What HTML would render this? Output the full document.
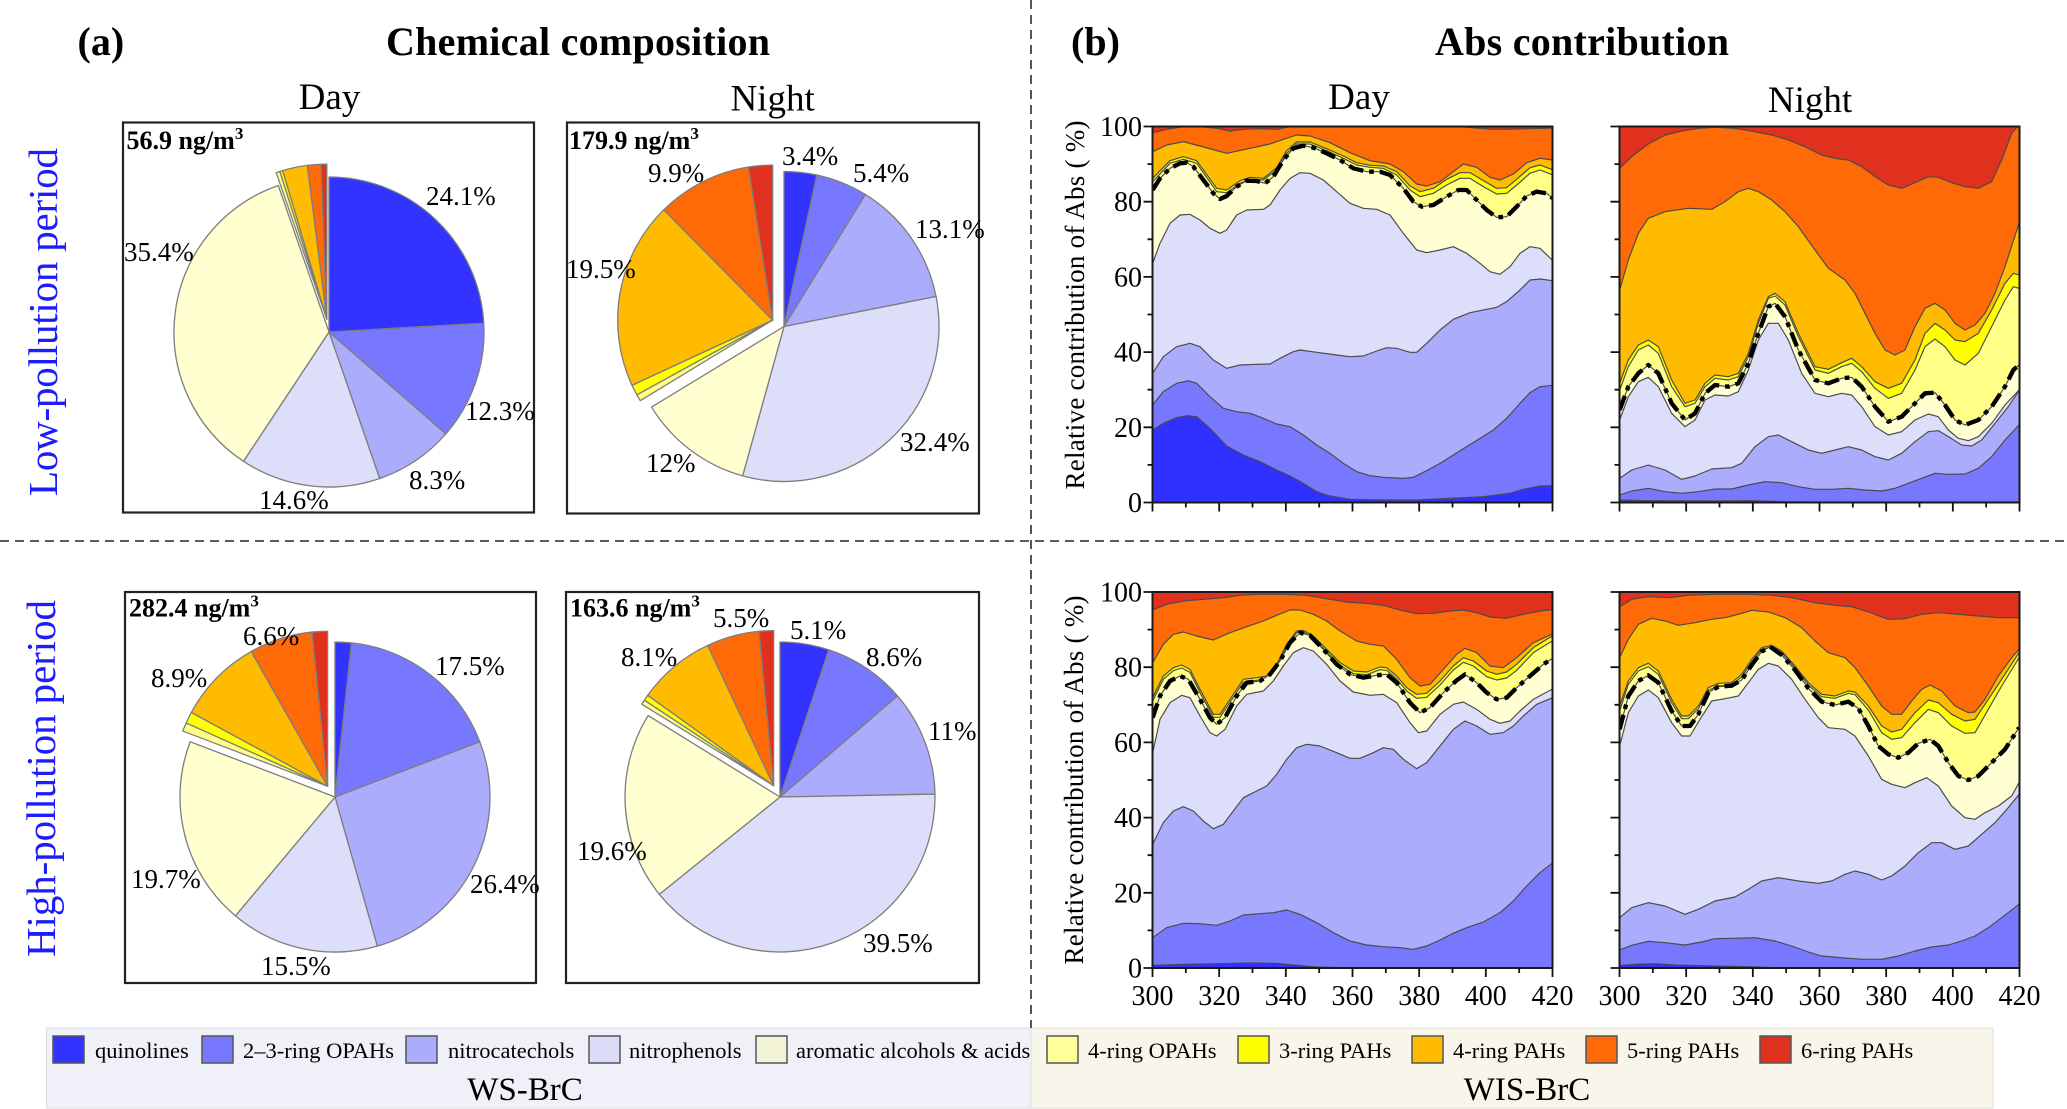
<!DOCTYPE html>
<html>
<head>
<meta charset="utf-8">
<style>
html,body{margin:0;padding:0;background:#fff;}
body{width:2067px;height:1109px;overflow:hidden;}
svg{display:block;}
text{font-family:"Liberation Serif","Times New Roman",serif;fill:#000;}
</style>
</head>
<body>
<svg width="2067" height="1109" viewBox="0 0 2067 1109" xmlns="http://www.w3.org/2000/svg">
<defs>
<clipPath id="cTL"><rect x="1152.5" y="126.5" width="400" height="376"/></clipPath>
<clipPath id="cTR"><rect x="1619.5" y="126.5" width="400" height="376"/></clipPath>
<clipPath id="cBL"><rect x="1152.5" y="592" width="400" height="376"/></clipPath>
<clipPath id="cBR"><rect x="1619.5" y="592" width="400" height="376"/></clipPath>
<g id="yt"><path d="M-9 0H0M-5 -37.6H0M-9 -75.2H0M-5 -112.8H0M-9 -150.4H0M-5 -188H0M-9 -225.6H0M-5 -263.2H0M-9 -300.8H0M-5 -338.4H0M-9 -376H0" stroke="#111" stroke-width="1.8" fill="none"/></g>
<g id="xt"><path d="M0 0V9M33.33 0V5M66.67 0V9M100 0V5M133.33 0V9M166.67 0V5M200 0V9M233.33 0V5M266.67 0V9M300 0V5M333.33 0V9M366.67 0V5M400 0V9" stroke="#111" stroke-width="1.8" fill="none"/></g>
</defs>
<rect x="0" y="0" width="2067" height="1109" fill="#fff"/>

<!-- legend backgrounds -->
<rect x="46.5" y="1028" width="984.5" height="80" fill="#f0f0f9" stroke="#dcdce6" stroke-width="1"/>
<rect x="1031" y="1028" width="962" height="80" fill="#f8f5ea" stroke="#e2dfd4" stroke-width="1"/>

<!-- dividers -->
<line x1="1031" y1="0" x2="1031" y2="1028" stroke="#444" stroke-width="1.8" stroke-dasharray="9 6"/>
<line x1="0" y1="541" x2="2067" y2="541" stroke="#444" stroke-width="1.8" stroke-dasharray="9 6"/>

<!-- titles -->
<text x="77.5" y="55" font-size="40" font-weight="bold">(a)</text>
<text x="578" y="55" font-size="40" font-weight="bold" text-anchor="middle" textLength="384" lengthAdjust="spacing">Chemical composition</text>
<text x="1071" y="55" font-size="40" font-weight="bold">(b)</text>
<text x="1582" y="55" font-size="40" font-weight="bold" text-anchor="middle" textLength="294" lengthAdjust="spacing">Abs contribution</text>
<text x="329.5" y="109" font-size="37" text-anchor="middle">Day</text>
<text x="772.6" y="110.5" font-size="37" text-anchor="middle">Night</text>
<text x="1359" y="109" font-size="37" text-anchor="middle">Day</text>
<text x="1810" y="112" font-size="37" text-anchor="middle">Night</text>

<text transform="translate(57 322) rotate(-90)" font-size="41" text-anchor="middle" textLength="348" lengthAdjust="spacing" style="fill:#1c1cff">Low-pollution period</text>
<text transform="translate(55 778.5) rotate(-90)" font-size="41" text-anchor="middle" textLength="357" lengthAdjust="spacing" style="fill:#1c1cff">High-pollution period</text>

<!-- pie boxes -->
<g fill="none" stroke="#222" stroke-width="2.2">
<rect x="123" y="122.5" width="411" height="390"/>
<rect x="567" y="122.5" width="412" height="391"/>
<rect x="125" y="592" width="411" height="391"/>
<rect x="566" y="592" width="413" height="391"/>
</g>

<!-- pies -->
<g stroke="#7d7d7d" stroke-width="1.3" stroke-linejoin="round">
<path fill="#3333ff" d="M329 332L329 177A155 155 0 0 1 483.75 323.24Z"/>
<path fill="#7878ff" d="M329 332L483.75 323.24A155 155 0 0 1 445.84 433.87Z"/>
<path fill="#abadfc" d="M329 332L445.84 433.87A155 155 0 0 1 379.67 478.49Z"/>
<path fill="#dcdefa" d="M329 332L379.67 478.49A155 155 0 0 1 243.5 461.29Z"/>
<path fill="#ffffd0" d="M329 332L243.5 461.29A155 155 0 0 1 278.33 185.51Z"/>
<path fill="#ffff88" d="M326.85 319.18L276.18 172.69A155 155 0 0 1 279.87 171.46Z"/>
<path fill="#ffff00" d="M326.85 319.18L279.87 171.46A155 155 0 0 1 282.67 170.61Z"/>
<path fill="#ffbb00" d="M326.85 319.18L282.67 170.61A155 155 0 0 1 307.43 165.4Z"/>
<path fill="#ff6a08" d="M326.85 319.18L307.43 165.4A155 155 0 0 1 321.01 164.29Z"/>
<path fill="#e0301e" d="M326.85 319.18L321.01 164.29A155 155 0 0 1 326.85 164.18Z"/>

<path fill="#3333ff" d="M784 326.5L784 171.5A155 155 0 0 1 816.86 175.02Z"/>
<path fill="#7878ff" d="M784 326.5L816.86 175.02A155 155 0 0 1 865.41 194.59Z"/>
<path fill="#abadfc" d="M784 326.5L865.41 194.59A155 155 0 0 1 936.07 296.49Z"/>
<path fill="#dcdefa" d="M784 326.5L936.07 296.49A155 155 0 0 1 742.63 475.87Z"/>
<path fill="#ffffd0" d="M784 326.5L742.63 475.87A155 155 0 0 1 651.58 407.07Z"/>
<path fill="#ffff88" d="M772.67 320.13L640.25 400.7A155 155 0 0 1 636.84 394.81Z"/>
<path fill="#ffff00" d="M772.67 320.13L636.84 394.81A155 155 0 0 1 632.01 385.25Z"/>
<path fill="#ffbb00" d="M772.67 320.13L632.01 385.25A155 155 0 0 1 663.77 209.83Z"/>
<path fill="#ff6a08" d="M772.67 320.13L663.77 209.83A155 155 0 0 1 748.43 167.04Z"/>
<path fill="#e0301e" d="M772.67 320.13L748.43 167.04A155 155 0 0 1 772.67 165.13Z"/>

<path fill="#3333ff" d="M335 797L335 642A155 155 0 0 1 351.52 642.88Z"/>
<path fill="#7878ff" d="M335 797L351.52 642.88A155 155 0 0 1 479.83 741.76Z"/>
<path fill="#abadfc" d="M335 797L479.83 741.76A155 155 0 0 1 377.32 946.11Z"/>
<path fill="#dcdefa" d="M335 797L377.32 946.11A155 155 0 0 1 235.47 915.82Z"/>
<path fill="#ffffd0" d="M335 797L235.47 915.82A155 155 0 0 1 190.18 741.76Z"/>
<path fill="#ffff88" d="M327.63 786.29L182.81 731.05A155 155 0 0 1 186.16 722.96Z"/>
<path fill="#ffff00" d="M327.63 786.29L186.16 722.96A155 155 0 0 1 191.32 712.46Z"/>
<path fill="#ffbb00" d="M327.63 786.29L191.32 712.46A155 155 0 0 1 251.26 651.41Z"/>
<path fill="#ff6a08" d="M327.63 786.29L251.26 651.41A155 155 0 0 1 312.07 632.07Z"/>
<path fill="#e0301e" d="M327.63 786.29L312.07 632.07A155 155 0 0 1 327.63 631.29Z"/>

<path fill="#3333ff" d="M780 797L780 642A155 155 0 0 1 828.83 649.89Z"/>
<path fill="#7878ff" d="M780 797L828.83 649.89A155 155 0 0 1 897.51 695.92Z"/>
<path fill="#abadfc" d="M780 797L897.51 695.92A155 155 0 0 1 934.97 794.08Z"/>
<path fill="#dcdefa" d="M780 797L934.97 794.08A155 155 0 0 1 659.35 894.28Z"/>
<path fill="#ffffd0" d="M780 797L659.35 894.28A155 155 0 0 1 648.1 715.59Z"/>
<path fill="#ffff88" d="M773.67 785.65L641.77 704.24A155 155 0 0 1 644.42 700.15Z"/>
<path fill="#ffff00" d="M773.67 785.65L644.42 700.15A155 155 0 0 1 647.69 695.32Z"/>
<path fill="#ffbb00" d="M773.67 785.65L647.69 695.32A155 155 0 0 1 707.67 645.41Z"/>
<path fill="#ff6a08" d="M773.67 785.65L707.67 645.41A155 155 0 0 1 759.08 631.33Z"/>
<path fill="#e0301e" d="M773.67 785.65L759.08 631.33A155 155 0 0 1 773.67 630.65Z"/>
</g>

<!-- pie labels -->
<g font-size="27">
<text x="426" y="205">24.1%</text>
<text x="465" y="420">12.3%</text>
<text x="409" y="489">8.3%</text>
<text x="259" y="509">14.6%</text>
<text x="124" y="261">35.4%</text>

<text x="782" y="165">3.4%</text>
<text x="853" y="182">5.4%</text>
<text x="915" y="238">13.1%</text>
<text x="900" y="451">32.4%</text>
<text x="646" y="472">12%</text>
<text x="566" y="278">19.5%</text>
<text x="648" y="182">9.9%</text>

<text x="435" y="675">17.5%</text>
<text x="470" y="893">26.4%</text>
<text x="261" y="975">15.5%</text>
<text x="131" y="888">19.7%</text>
<text x="151" y="687">8.9%</text>
<text x="243" y="645">6.6%</text>

<text x="713" y="627">5.5%</text>
<text x="790" y="639">5.1%</text>
<text x="866" y="666">8.6%</text>
<text x="928" y="740">11%</text>
<text x="863" y="952">39.5%</text>
<text x="577" y="860">19.6%</text>
<text x="621" y="666">8.1%</text>
</g>
<g font-size="26" font-weight="bold">
<text x="126.5" y="149">56.9 ng/m<tspan dy="-10" font-size="17">3</tspan></text>
<text x="569" y="149">179.9 ng/m<tspan dy="-10" font-size="17">3</tspan></text>
<text x="129" y="616.5">282.4 ng/m<tspan dy="-10" font-size="17">3</tspan></text>
<text x="570" y="616.5">163.6 ng/m<tspan dy="-10" font-size="17">3</tspan></text>
</g>

<!-- ===== Area chart: low day ===== -->
<g clip-path="url(#cTL)"><g transform="translate(1150 120) scale(0.333333)" stroke="#4a4a4a" stroke-width="3.5" stroke-linejoin="round">
<rect x="0" y="0" width="1230" height="1160" fill="#e0301e" stroke="none"/>
<polygon fill="#ff6a08" points="0,1150 0,40 8,38 50,28 100,20 150,20 200,25 240,33 280,28 330,26 380,28 420,20 450,17 900,17 950,22 1030,28 1100,27 1215,24 1215,1150"/>
<polygon fill="#ffbb00" points="0,1150 0,98 8,95 50,75 100,65 150,78 230,100 300,85 360,72 400,58 440,45 480,48 540,68 600,98 660,122 720,132 760,155 800,192 830,198 870,185 910,155 940,132 980,142 1020,172 1050,180 1090,162 1130,128 1170,115 1215,121 1215,1150"/>
<polygon fill="#ffff00" points="0,1150 0,180 8,175 60,122 100,110 140,122 200,205 230,210 270,182 300,172 340,175 380,143 410,92 440,66 480,66 530,86 580,108 620,128 660,136 700,138 740,155 780,198 810,215 850,205 890,178 930,158 960,158 1000,182 1040,205 1070,203 1100,178 1140,143 1170,135 1215,152 1215,1150"/>
<polygon fill="#ffff88" points="0,1150 0,190 8,185 60,130 100,118 140,130 200,215 230,218 270,190 300,178 340,180 380,150 410,100 440,72 480,72 530,92 580,115 620,135 660,142 700,145 740,165 780,210 810,230 850,220 890,195 930,175 960,175 1000,200 1040,222 1070,220 1100,195 1140,160 1170,150 1215,167 1215,1150"/>
<polygon fill="#ffffd2" points="0,1150 0,215 8,210 30,175 60,145 90,130 110,128 130,140 160,180 190,220 210,237 230,228 260,200 290,182 320,183 345,190 370,170 400,120 430,85 460,77 490,83 530,100 570,120 610,145 650,155 690,155 720,165 760,205 790,245 815,260 850,255 890,230 925,210 950,210 980,240 1010,270 1040,292 1070,290 1100,260 1130,228 1160,215 1190,220 1215,240 1215,1150"/>
<polygon fill="#dddefa" points="0,1150 0,445 8,430 30,370 60,310 90,285 120,283 150,300 180,325 210,340 230,330 260,285 290,270 340,268 360,255 390,210 420,175 450,158 480,160 520,180 560,215 600,250 640,265 680,268 720,285 760,340 800,390 830,398 870,390 910,380 950,400 990,430 1020,455 1050,463 1080,440 1110,400 1140,380 1170,385 1215,428 1215,1150"/>
<polygon fill="#abadfc" points="0,1150 0,770 8,760 40,710 80,680 120,670 150,680 190,720 230,745 270,735 320,733 360,732 390,715 430,695 450,690 500,697 560,705 600,710 640,708 680,693 710,683 740,685 780,697 800,697 830,670 870,630 910,598 960,578 1010,568 1040,562 1070,545 1110,510 1140,480 1170,477 1215,483 1215,1150"/>
<polygon fill="#7878ff" points="0,1150 0,862 8,855 40,815 80,790 115,782 140,790 180,830 220,865 260,875 300,880 340,895 380,912 420,920 460,945 500,975 540,1000 580,1030 620,1055 660,1067 700,1072 760,1075 790,1072 830,1052 870,1030 910,1005 950,980 990,955 1030,930 1070,895 1110,850 1140,818 1170,800 1215,795 1215,1150"/>
<polygon fill="#3030ff" points="0,1150 0,935 8,930 40,910 80,893 110,887 140,890 180,925 230,978 280,1005 330,1025 380,1050 420,1068 460,1090 500,1115 540,1128 600,1138 700,1140 800,1140 900,1135 1000,1130 1080,1120 1120,1108 1170,1098 1215,1097 1215,1150"/>
<polyline fill="none" stroke="#000" stroke-width="13" stroke-dasharray="45 18 14 18" points="8,210 30,175 60,145 90,130 110,128 130,140 160,180 190,220 210,237 230,228 260,200 290,182 320,183 345,190 370,170 400,120 430,85 460,77 490,83 530,100 570,120 610,145 650,155 690,155 720,165 760,205 790,245 815,260 850,255 890,230 925,210 950,210 980,240 1010,270 1040,292 1070,290 1100,260 1130,228 1160,215 1190,220 1215,240"/>
</g></g>

<!-- ===== Area chart: low night ===== -->
<g clip-path="url(#cTR)"><g transform="translate(1615 120) scale(0.333333)" stroke="#4a4a4a" stroke-width="3.5" stroke-linejoin="round">
<rect x="0" y="0" width="1240" height="1160" fill="#e0301e" stroke="none"/>
<polygon fill="#ff6a08" points="0,1150 0,155 14,145 50,110 100,72 150,45 200,33 250,25 300,22 360,25 420,35 470,45 520,60 570,80 620,105 660,115 700,120 740,140 780,170 820,195 860,205 900,188 940,170 970,172 1010,188 1050,200 1090,205 1130,185 1160,120 1190,40 1212,15 1225,10 1225,1150"/>
<polygon fill="#ffbb00" points="0,1150 0,540 14,510 40,420 70,340 100,295 150,275 220,265 290,268 330,245 370,215 400,205 430,215 470,240 510,275 550,320 600,390 640,445 690,480 720,520 750,580 780,640 810,690 840,705 870,690 900,620 930,565 960,550 990,570 1020,610 1050,630 1080,615 1110,580 1140,520 1170,440 1212,310 1225,290 1225,1150"/>
<polygon fill="#ffff00" points="0,1150 0,810 14,790 40,720 70,675 100,660 130,680 170,780 210,850 240,840 270,790 300,765 340,770 370,760 400,700 430,600 460,530 480,520 510,545 550,640 600,740 640,748 680,728 710,715 740,740 780,785 820,805 860,790 900,720 930,640 960,610 990,630 1020,660 1050,665 1090,640 1130,570 1170,490 1195,460 1212,465 1225,465 1225,1150"/>
<polygon fill="#ffff88" points="0,1150 0,830 14,810 40,740 70,690 100,675 130,700 170,800 210,860 240,850 270,800 300,775 340,780 370,770 400,710 430,610 460,535 480,528 510,555 550,650 600,750 640,760 680,740 710,730 740,755 780,805 820,835 860,820 900,750 930,680 960,657 990,680 1020,720 1050,735 1090,700 1130,620 1170,540 1195,500 1212,505 1225,505 1225,1150"/>
<polygon fill="#ffffd2" points="0,1150 0,890 14,870 40,800 70,760 100,735 130,760 170,850 210,900 240,880 270,820 300,795 340,800 370,790 400,730 430,640 460,560 480,550 510,590 550,690 600,780 640,790 680,775 710,772 740,800 780,860 820,905 860,890 900,850 930,820 960,818 990,855 1020,900 1050,915 1090,900 1130,860 1170,800 1195,750 1212,735 1225,730 1225,1150"/>
<polygon fill="#dddefa" points="0,1150 0,920 14,900 40,830 70,785 100,772 130,800 170,880 210,920 240,900 270,840 300,825 340,828 370,815 400,750 430,660 460,610 490,610 520,660 560,760 600,820 640,830 680,820 710,825 740,860 780,920 820,945 860,935 900,900 940,882 970,890 1000,930 1030,955 1060,962 1090,950 1130,910 1170,855 1212,810 1225,800 1225,1150"/>
<polygon fill="#abadfc" points="0,1150 0,1080 14,1075 50,1050 100,1035 150,1050 200,1078 240,1068 290,1047 350,1043 380,1030 420,980 460,950 490,945 530,965 580,990 620,1000 660,990 700,980 740,990 780,1010 820,1020 860,1000 900,965 940,935 970,932 1000,950 1040,975 1070,978 1100,960 1140,910 1180,860 1212,812 1225,800 1225,1150"/>
<polygon fill="#7878ff" points="0,1150 0,1128 14,1125 50,1113 100,1105 150,1115 200,1120 250,1115 300,1107 350,1107 400,1095 450,1085 500,1088 550,1100 600,1108 650,1108 700,1105 750,1110 800,1113 840,1105 880,1090 920,1075 960,1060 1000,1063 1050,1062 1090,1045 1130,1010 1170,960 1212,915 1225,900 1225,1150"/>
<polygon fill="#3030ff" points="0,1150 0,1140 14,1140 100,1142 300,1143 400,1142 500,1145 600,1146 1225,1146 1225,1150"/>
<polyline fill="none" stroke="#000" stroke-width="13" stroke-dasharray="45 18 14 18" points="14,870 40,800 70,760 100,735 130,760 170,850 210,900 240,880 270,820 300,795 340,800 370,790 400,730 430,640 460,560 480,550 510,590 550,690 600,780 640,790 680,775 710,772 740,800 780,860 820,905 860,890 900,850 930,820 960,818 990,855 1020,900 1050,915 1090,900 1130,860 1170,800 1195,750 1212,735"/>
</g></g>

<!-- ===== Area chart: high day ===== -->
<g clip-path="url(#cBL)"><g transform="translate(1150 586) scale(0.333333)" stroke="#4a4a4a" stroke-width="3.5" stroke-linejoin="round">
<rect x="0" y="0" width="1230" height="1160" fill="#e0301e" stroke="none"/>
<polygon fill="#ff6a08" points="0,1150 0,75 8,72 50,55 100,45 160,40 220,35 270,28 330,25 400,25 470,28 530,38 590,48 650,52 700,58 750,72 800,83 850,82 900,75 940,72 980,80 1020,93 1070,97 1120,85 1170,75 1215,70 1215,1150"/>
<polygon fill="#ffbb00" points="0,1150 0,240 8,230 40,175 70,145 100,138 140,150 190,162 240,140 290,122 340,105 380,88 420,72 450,72 490,85 530,105 570,135 620,165 660,175 700,180 740,220 780,275 810,300 840,295 880,250 920,205 945,187 980,200 1020,240 1060,245 1100,215 1150,170 1215,140 1215,1150"/>
<polygon fill="#ffff00" points="0,1150 0,345 8,335 40,270 70,245 95,237 120,250 150,310 190,385 210,385 240,340 280,280 320,275 350,270 380,235 410,175 440,135 460,133 490,150 530,190 570,230 610,255 650,258 690,243 710,245 740,270 770,305 800,325 830,322 870,285 910,240 940,215 970,225 1010,255 1040,265 1070,258 1100,235 1150,185 1215,145 1215,1150"/>
<polygon fill="#ffff88" points="0,1150 0,355 8,345 40,280 70,254 95,246 120,259 150,320 190,394 210,394 240,349 280,289 320,283 350,278 380,243 410,182 440,140 460,138 490,156 530,197 570,238 610,263 650,266 690,251 710,253 740,279 770,315 800,337 830,334 870,297 910,252 940,229 970,240 1010,272 1040,282 1070,276 1100,253 1150,200 1215,160 1215,1150"/>
<polygon fill="#ffffd2" points="0,1150 0,405 8,395 30,330 60,285 90,270 115,280 150,340 180,395 200,415 225,395 260,330 290,290 330,285 360,265 390,225 420,170 450,140 480,148 520,190 560,235 600,265 640,275 680,268 710,265 740,290 780,350 810,380 840,365 880,320 920,283 945,265 980,290 1010,320 1040,340 1070,335 1100,305 1140,270 1180,235 1215,212 1215,1150"/>
<polygon fill="#dddefa" points="0,1150 0,520 8,500 30,400 60,350 95,328 120,335 150,390 180,440 200,450 225,430 260,360 290,325 340,315 370,285 400,240 430,200 460,185 490,195 530,235 570,285 610,318 660,328 700,325 740,350 780,410 805,440 830,435 870,385 910,355 940,348 980,370 1020,400 1050,412 1080,405 1110,375 1150,340 1215,305 1215,1150"/>
<polygon fill="#abadfc" points="0,1150 0,790 8,775 40,710 70,675 100,662 130,675 160,705 190,728 220,715 250,675 280,635 320,615 350,600 380,565 410,520 440,485 470,475 510,480 560,500 600,517 630,517 670,500 700,485 730,490 760,520 800,548 830,530 870,480 910,430 945,405 980,420 1020,445 1060,440 1090,420 1120,390 1160,355 1215,332 1215,1150"/>
<polygon fill="#7878ff" points="0,1150 0,1062 8,1055 50,1025 100,1012 150,1013 200,1018 240,1005 280,987 330,983 370,980 410,972 450,985 500,1010 550,1040 600,1065 650,1077 700,1082 750,1085 790,1090 830,1080 870,1062 910,1042 950,1025 1000,1008 1050,980 1090,945 1130,900 1170,860 1215,825 1215,1150"/>
<polygon fill="#3030ff" points="0,1150 0,1139 8,1138 100,1135 200,1133 300,1131 380,1132 430,1137 500,1143 600,1146 1215,1146 1215,1150"/>
<polyline fill="none" stroke="#000" stroke-width="13" stroke-dasharray="45 18 14 18" points="8,395 30,330 60,285 90,270 115,280 150,340 180,395 200,415 225,395 260,330 290,290 330,285 360,265 390,225 420,170 450,140 480,148 520,190 560,235 600,265 640,275 680,268 710,265 740,290 780,350 810,380 840,365 880,320 920,283 945,265 980,290 1010,320 1040,340 1070,335 1100,305 1140,270 1180,235 1215,212"/>
</g></g>

<!-- ===== Area chart: high night ===== -->
<g clip-path="url(#cBR)"><g transform="translate(1615 586) scale(0.333333)" stroke="#4a4a4a" stroke-width="3.5" stroke-linejoin="round">
<rect x="0" y="0" width="1240" height="1160" fill="#e0301e" stroke="none"/>
<polygon fill="#ff6a08" points="0,1150 0,68 14,62 50,40 100,32 160,35 220,28 300,25 400,25 470,28 530,35 600,50 660,58 710,62 760,78 820,100 870,98 920,85 970,80 1030,85 1090,90 1150,95 1225,95 1225,1150"/>
<polygon fill="#ffbb00" points="0,1150 0,235 14,215 40,160 70,115 110,97 150,105 190,118 240,110 290,100 330,95 370,85 410,73 460,78 510,95 560,125 600,165 640,200 690,215 720,245 760,300 800,360 830,385 860,385 890,345 920,310 945,297 980,315 1020,360 1060,380 1080,378 1110,340 1150,270 1190,215 1212,190 1225,175 1225,1150"/>
<polygon fill="#ffff00" points="0,1150 0,380 14,360 40,285 70,245 100,232 130,255 170,340 200,390 220,390 250,360 280,305 310,292 350,290 380,265 410,220 440,185 470,178 500,195 540,240 580,290 620,325 660,330 700,315 720,318 760,360 800,420 830,438 860,430 900,380 940,342 970,350 1010,385 1050,405 1080,400 1120,340 1160,280 1212,200 1225,185 1225,1150"/>
<polygon fill="#ffff88" points="0,1150 0,395 14,375 40,295 70,255 100,242 130,265 170,350 200,398 220,398 250,368 280,313 310,300 350,298 380,272 410,228 440,190 470,183 500,200 540,246 580,297 620,332 660,337 700,322 720,326 760,372 800,440 830,460 860,455 900,410 940,370 970,380 1010,420 1050,442 1080,440 1120,370 1160,300 1212,215 1225,200 1225,1150"/>
<polygon fill="#ffffd2" points="0,1150 0,450 14,430 40,330 70,285 100,268 130,290 170,375 200,420 225,420 250,385 280,320 310,302 350,299 380,282 410,237 440,197 465,182 500,207 540,252 580,307 620,347 660,357 700,347 730,367 760,420 790,480 820,505 850,515 880,500 910,472 945,460 970,480 1000,530 1030,570 1060,582 1090,570 1130,530 1170,490 1212,425 1225,410 1225,1150"/>
<polygon fill="#dddefa" points="0,1150 0,500 14,480 40,380 70,330 100,312 130,335 170,410 200,450 225,450 255,400 290,345 330,338 370,330 400,290 430,250 460,232 490,240 530,280 570,340 610,395 640,425 690,430 720,450 760,510 800,580 830,595 870,605 900,590 935,575 970,600 1010,660 1050,695 1080,700 1110,680 1150,660 1190,630 1212,590 1225,575 1225,1150"/>
<polygon fill="#abadfc" points="0,1150 0,1000 14,995 50,965 100,950 150,960 210,985 250,970 300,945 360,933 400,910 440,885 490,875 550,885 610,892 650,885 690,865 720,855 760,865 800,882 830,870 870,840 910,800 950,770 980,770 1020,790 1060,780 1100,745 1140,710 1180,665 1212,625 1225,612 1225,1150"/>
<polygon fill="#7878ff" points="0,1150 0,1095 14,1092 50,1078 100,1066 150,1070 210,1077 260,1068 300,1058 350,1057 420,1055 480,1065 530,1080 580,1098 620,1110 680,1115 740,1120 800,1120 850,1110 900,1095 950,1083 1000,1077 1040,1065 1080,1050 1120,1025 1160,995 1212,955 1225,945 1225,1150"/>
<polygon fill="#3030ff" points="0,1150 0,1138 14,1138 60,1135 120,1133 180,1137 300,1140 400,1142 500,1146 1225,1146 1225,1150"/>
<polyline fill="none" stroke="#000" stroke-width="13" stroke-dasharray="45 18 14 18" points="14,430 40,330 70,285 100,268 130,290 170,375 200,420 225,420 250,385 280,320 310,302 350,299 380,282 410,237 440,197 465,182 500,207 540,252 580,307 620,347 660,357 700,347 730,367 760,420 790,480 820,505 850,515 880,500 910,472 945,460 970,480 1000,530 1030,570 1060,582 1090,570 1130,530 1170,490 1212,425"/>
</g></g>

<!-- chart frames -->
<g fill="none" stroke="#1a1a1a" stroke-width="2">
<rect x="1152.5" y="126.5" width="400" height="376"/>
<rect x="1619.5" y="126.5" width="400" height="376"/>
<rect x="1152.5" y="592" width="400" height="376"/>
<rect x="1619.5" y="592" width="400" height="376"/>
</g>
<use href="#yt" x="1152.5" y="502.5"/>
<use href="#yt" x="1619.5" y="502.5"/>
<use href="#yt" x="1152.5" y="968"/>
<use href="#yt" x="1619.5" y="968"/>
<use href="#xt" x="1152.5" y="502.5"/>
<use href="#xt" x="1619.5" y="502.5"/>
<use href="#xt" x="1152.5" y="968"/>
<use href="#xt" x="1619.5" y="968"/>

<!-- y tick labels -->
<g font-size="28" text-anchor="end">
<text x="1142" y="136">100</text>
<text x="1142" y="211.2">80</text>
<text x="1142" y="286.4">60</text>
<text x="1142" y="361.6">40</text>
<text x="1142" y="436.8">20</text>
<text x="1142" y="512">0</text>
<text x="1142" y="601.5">100</text>
<text x="1142" y="676.7">80</text>
<text x="1142" y="751.9">60</text>
<text x="1142" y="827.1">40</text>
<text x="1142" y="902.3">20</text>
<text x="1142" y="977.5">0</text>
</g>
<!-- x tick labels -->
<g font-size="28" text-anchor="middle">
<text x="1152.5" y="1005">300</text>
<text x="1219.2" y="1005">320</text>
<text x="1285.8" y="1005">340</text>
<text x="1352.5" y="1005">360</text>
<text x="1419.2" y="1005">380</text>
<text x="1485.8" y="1005">400</text>
<text x="1552.5" y="1005">420</text>
<text x="1619.5" y="1005">300</text>
<text x="1686.2" y="1005">320</text>
<text x="1752.8" y="1005">340</text>
<text x="1819.5" y="1005">360</text>
<text x="1886.2" y="1005">380</text>
<text x="1952.8" y="1005">400</text>
<text x="2019.5" y="1005">420</text>
</g>
<text transform="translate(1084 305) rotate(-90)" font-size="27" text-anchor="middle" textLength="369" lengthAdjust="spacing">Relative contribution of Abs ( %)</text>
<text transform="translate(1083 780) rotate(-90)" font-size="27" text-anchor="middle" textLength="369" lengthAdjust="spacing">Relative contribution of Abs ( %)</text>

<!-- legend -->
<g stroke="#555" stroke-width="1.5">
<rect x="53" y="1036" width="31" height="27" fill="#3333ff"/>
<rect x="202" y="1036" width="31" height="27" fill="#7878ff"/>
<rect x="406" y="1036" width="31" height="27" fill="#abadfc"/>
<rect x="589" y="1036" width="31" height="27" fill="#dcdcf8"/>
<rect x="756" y="1036" width="31" height="27" fill="#f3f3d8"/>
<rect x="1047" y="1036" width="31" height="27" fill="#ffff99"/>
<rect x="1238" y="1036" width="31" height="27" fill="#ffff00"/>
<rect x="1412" y="1036" width="31" height="27" fill="#ffbb00"/>
<rect x="1586" y="1036" width="31" height="27" fill="#ff6a08"/>
<rect x="1760" y="1036" width="31" height="27" fill="#e0301e"/>
</g>
<g font-size="22.5">
<text x="95" y="1058">quinolines</text>
<text x="243" y="1058">2–3-ring OPAHs</text>
<text x="448" y="1058">nitrocatechols</text>
<text x="629" y="1058">nitrophenols</text>
<text x="796" y="1058">aromatic alcohols &amp; acids</text>
<text x="1088" y="1058">4-ring OPAHs</text>
<text x="1279" y="1058">3-ring PAHs</text>
<text x="1453" y="1058">4-ring PAHs</text>
<text x="1627" y="1058">5-ring PAHs</text>
<text x="1801" y="1058">6-ring PAHs</text>
</g>
<text x="525" y="1100" font-size="33" text-anchor="middle">WS-BrC</text>
<text x="1527" y="1100" font-size="33" text-anchor="middle">WIS-BrC</text>
</svg>
</body>
</html>
